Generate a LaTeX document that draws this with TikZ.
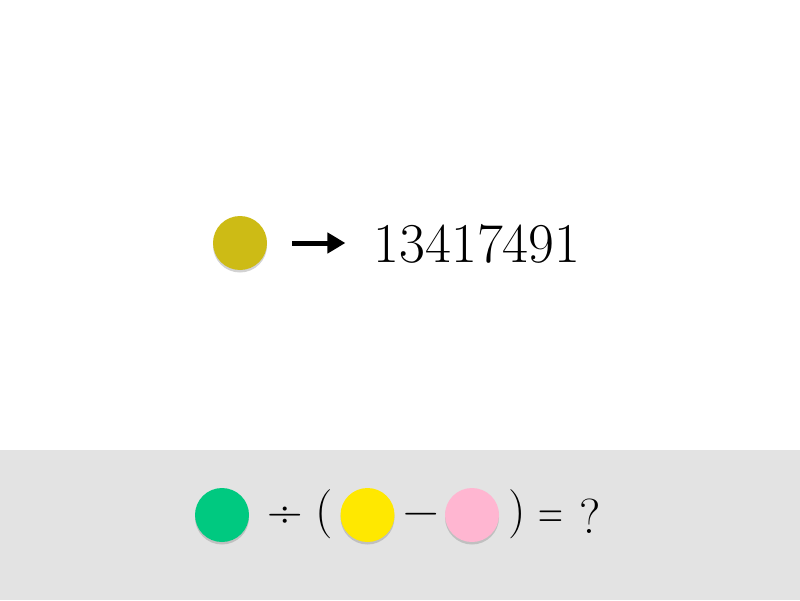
\documentclass[tikz,border=0pt]{standalone}
\usepackage{fontspec}
\usepackage{graphicx}
\usepackage{tikz}
\usetikzlibrary{arrows.meta,shadows}

\definecolor{band}{HTML}{E3E3E3}
\definecolor{mustard}{HTML}{CDBB15}
\definecolor{mint}{HTML}{00C980}
\definecolor{lemon}{HTML}{FFE800}
\definecolor{rose}{HTML}{FFB6D1}

\begin{document}
\begin{tikzpicture}[
    dot/.style={circle, minimum size=1.08cm, inner sep=0pt,
      drop shadow={shadow xshift=0pt, shadow yshift=-0.05cm, opacity=0.35}},
    sym/.style={anchor=base, inner sep=0pt, font=\fontsize{28}{34}\selectfont}]
  \useasboundingbox (0,0) rectangle (16,12);
  \fill[white] (0,3) rectangle (16,12);
  \fill[band] (0,0) rectangle (16,3);
  % top row
  \node[dot, fill=mustard] (key) at (4.8,7.14) {};
  \node[anchor=base, inner sep=0pt, font=\fontsize{32}{38}\selectfont]
    (num) at (9.54,6.76) {13417491};
  \draw[line width=0.1cm, -{Triangle[length=0.36cm,width=0.4cm]},
    shorten <=0.5cm, shorten >=0.56cm] (key) -- (num.west |- key);
  % bottom row
  \node[dot, fill=mint] (g) at (4.44,1.7) {};
  \node[sym] (div) at (5.71,1.46) {÷};
  \node[sym] (lp) at (6.48,1.48) {(};
  \node[dot, fill=lemon] (y) at (7.35,1.7) {};
  \node[sym] (minus) at (8.42,1.48) {−};
  \node[dot, fill=rose] (p) at (9.44,1.7) {};
  \node[sym] (rp) at (10.35,1.48) {)};
  \node[sym] (eq) at (11.01,1.44) {\scalebox{0.7}[1]{=}};
  \node[sym] (q) at (11.8,1.34) {?};
\end{tikzpicture}
\end{document}
